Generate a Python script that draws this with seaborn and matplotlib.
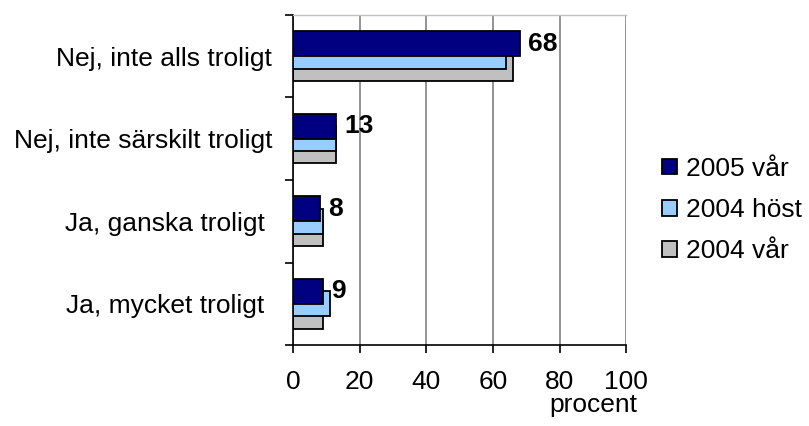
import numpy as np
import matplotlib
matplotlib.use("Agg")
import matplotlib.pyplot as plt
import seaborn as sns

# data
categories = ["Nej, inte alls troligt", "Nej, inte särskilt troligt",
              "Ja, ganska troligt ", "Ja, mycket troligt "]
series_names = ["2005 vår", "2004 höst", "2004 vår"]
vals_2005_var = [68, 13, 8, 9]
vals_2004_host = [64, 13, 9, 11]
vals_2004_var = [66, 13, 9, 9]
x_ticks = [0, 20, 40, 60, 80, 100]

colors = {"2005 vår": "#000080", "2004 höst": "#99CCFF", "2004 vår": "#C0C0C0"}

sns.set_style("white")
plt.rcParams["font.family"] = ["Liberation Sans", "DejaVu Sans"]
plt.rcParams["text.color"] = "black"
plt.rcParams["xtick.color"] = "black"
plt.rcParams["ytick.color"] = "black"
plt.rcParams["axes.labelcolor"] = "black"
FS = 19

fig = plt.figure(figsize=(8.09, 4.26), dpi=100)
ax = fig.add_axes([0.362, 0.190, 0.412, 0.775])
ax.set_axisbelow(True)

pos = np.arange(len(categories))
# drawn back to front: grey, light blue, navy (bars overlap by half)
layers = [("2004 vår", vals_2004_var, 0.15),
          ("2004 höst", vals_2004_host, 0.0),
          ("2005 vår", vals_2005_var, -0.15)]
handles = {}
for z, (name, vals, off) in enumerate(layers):
    sns.barplot(x=vals, y=pos + off, orient="h", native_scale=True,
                width=0.3, color=colors[name], saturation=1,
                edgecolor="black", linewidth=1.3, zorder=2 + z, ax=ax)
    handles[name] = ax.containers[-1]

ax.bar_label(handles["2005 vår"], labels=[str(v) for v in vals_2005_var],
             padding=6, fontsize=FS, fontweight="bold", color="black")

ax.set_xlim(0, 100)
ax.set_ylim(len(categories) - 0.5, -0.5)
ax.set_xticks(x_ticks)
ax.set_xticklabels([str(t) for t in x_ticks], fontsize=FS)
ax.set_yticks(np.arange(len(categories) + 1) - 0.5)
ax.set_yticklabels([])
ax.set_yticks(pos, minor=True)
ax.set_yticklabels(categories, minor=True, fontsize=FS)
ax.tick_params(axis="y", which="major", direction="out", length=6,
               width=1.2, color="black", left=True)
ax.tick_params(axis="y", which="minor", length=0, pad=15)
ax.tick_params(axis="x", direction="out", length=6, width=1.2,
               color="black", bottom=True, pad=12)
ax.tick_params(labelcolor="black", which="both")
ax.set_xlabel("")
ax.set_ylabel("")

ax.grid(axis="x", color="#808080", linewidth=1.2)
ax.grid(axis="y", visible=False)
for side in ["left", "bottom"]:
    ax.spines[side].set_color("black")
    ax.spines[side].set_linewidth(1.2)
ax.spines["top"].set_color("#C0C0C0")
ax.spines["top"].set_linewidth(1.0)
ax.spines["right"].set_visible(False)

fig.text(637 / 809, 1 - 405 / 426, "procent", ha="right", va="center",
         fontsize=FS, color="black")

leg = fig.legend([handles[n] for n in series_names], series_names,
                 loc="center left", bbox_to_anchor=(662 / 809, 1 - 210 / 426),
                 frameon=False, fontsize=FS, handlelength=0.55,
                 handleheight=0.55, handletextpad=0.35, labelspacing=0.65,
                 borderaxespad=0, borderpad=0)
for p in leg.get_patches():
    p.set_edgecolor("black")
    p.set_linewidth(1.3)
for t in leg.get_texts():
    t.set_color("black")

plt.savefig("out.png", dpi=100)
